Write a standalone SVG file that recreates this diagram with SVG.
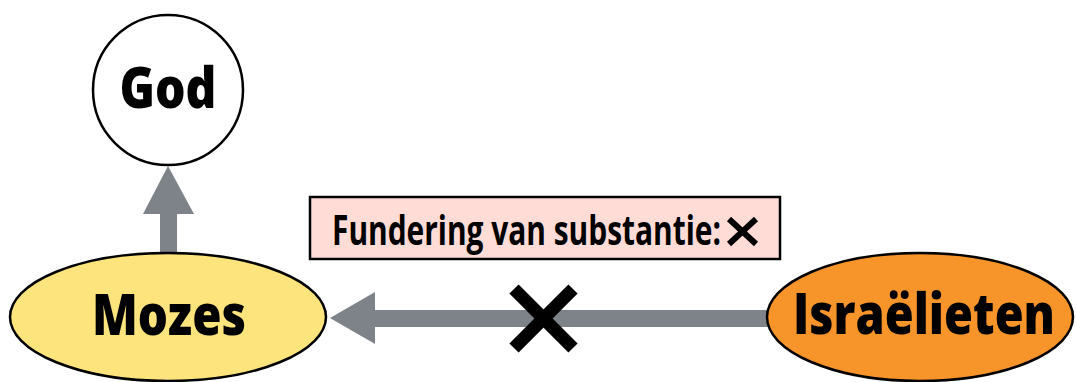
<svg xmlns="http://www.w3.org/2000/svg" width="1076" height="382" viewBox="0 0 1076 382">
<style>
.node{stroke:#000;stroke-width:2.5}
.lbl{font-family:"Open Sans","Noto Sans","Liberation Sans",sans-serif;font-weight:800;fill:#000}
.lbl2{font-family:"Open Sans","Noto Sans","Liberation Sans",sans-serif;font-weight:700;fill:#000}
.arr{fill:#7d8388}
.x{stroke:#000;stroke-linecap:butt}
</style>
<rect width="1076" height="382" fill="#fff"/>
<g id="connectors">
  <g id="edge-mozes-god">
    <rect class="arr" x="160" y="212" width="17" height="44"/>
    <polygon class="arr" points="168,166 194,214 143,214"/>
  </g>
  <g id="edge-israelieten-mozes">
    <rect class="arr" x="373" y="310" width="396" height="17"/>
    <polygon class="arr" points="330,318 375,292 375,344"/>
    <g id="cross-big">
      <line class="x" x1="514" y1="289" x2="573" y2="348" stroke-width="13"/>
      <line class="x" x1="573" y1="289" x2="514" y2="348" stroke-width="13"/>
    </g>
  </g>
</g>
<g id="node-god">
  <circle class="node" cx="168" cy="90" r="75" fill="#fff"/>
  <text class="lbl" x="168" y="108" font-size="56" text-anchor="middle" textLength="97" lengthAdjust="spacingAndGlyphs">God</text>
</g>
<g id="node-mozes">
  <ellipse class="node" cx="168" cy="317" rx="158" ry="64" fill="#fde47c"/>
  <text class="lbl" x="169" y="335" font-size="56" text-anchor="middle" textLength="154" lengthAdjust="spacingAndGlyphs">Mozes</text>
</g>
<g id="node-israelieten">
  <ellipse class="node" cx="920" cy="317" rx="153" ry="64" fill="#f8952a"/>
  <text class="lbl" x="1055" y="334" font-size="56" text-anchor="end" textLength="262" lengthAdjust="spacingAndGlyphs">Israëlieten</text>
</g>
<g id="label-fundering">
  <rect x="310" y="197" width="470" height="62" fill="#ffdcd6" stroke="#000" stroke-width="2.5"/>
  <text class="lbl2" x="332" y="245" font-size="41" textLength="389" lengthAdjust="spacingAndGlyphs">Fundering van substantie:</text>
  <line class="x" x1="729" y1="219" x2="756" y2="244" stroke-width="6"/>
  <line class="x" x1="756" y1="219" x2="729" y2="244" stroke-width="6"/>
</g>
</svg>
